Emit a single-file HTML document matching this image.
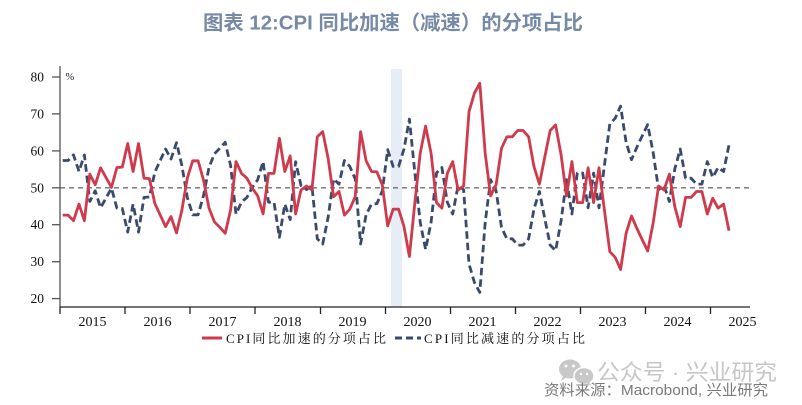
<!DOCTYPE html>
<html>
<head>
<meta charset="utf-8">
<style>
  html,body{margin:0;padding:0;background:#fff;}
  body{width:802px;height:405px;overflow:hidden;}
  svg{display:block;}
</style>
</head>
<body>
<svg width="802" height="405" viewBox="0 0 802 405" xmlns="http://www.w3.org/2000/svg">
  <rect x="0" y="0" width="802" height="405" fill="#fff"/>

  <!-- Title -->
  <text x="203" y="29.5" textLength="380" lengthAdjust="spacingAndGlyphs" font-family="'Liberation Sans','Noto Sans CJK SC',sans-serif" font-size="20" font-weight="bold" fill="#7689a6">图表 12:CPI 同比加速（减速）的分项占比</text>

  <!-- shading -->
  <rect x="391" y="69" width="11" height="238" fill="#e6edf6"/>

  <!-- 50 dashed ref line -->
  <line x1="60" y1="187.8" x2="749" y2="187.8" stroke="#707070" stroke-width="1.3" stroke-dasharray="5,4"/>

  <!-- Axes -->
  <line x1="60" y1="66" x2="60" y2="307" stroke="#555" stroke-width="1.3"/>
  <line x1="60" y1="307" x2="750" y2="307" stroke="#222" stroke-width="1.3"/>

  <!-- Y ticks -->
  <g stroke="#555" stroke-width="1.3">
    <line x1="52" y1="77" x2="60" y2="77"/>
    <line x1="52" y1="113.9" x2="60" y2="113.9"/>
    <line x1="52" y1="150.9" x2="60" y2="150.9"/>
    <line x1="52" y1="187.8" x2="60" y2="187.8"/>
    <line x1="52" y1="224.7" x2="60" y2="224.7"/>
    <line x1="52" y1="261.7" x2="60" y2="261.7"/>
    <line x1="52" y1="298.6" x2="60" y2="298.6"/>
  </g>
  <g font-family="'Liberation Serif',serif" font-size="13.5" fill="#111" text-anchor="end">
    <text x="44" y="81.5">80</text>
    <text x="44" y="118.4">70</text>
    <text x="44" y="155.4">60</text>
    <text x="44" y="192.3">50</text>
    <text x="44" y="229.2">40</text>
    <text x="44" y="266.2">30</text>
    <text x="44" y="303.1">20</text>
  </g>
  <text x="65.5" y="80" font-family="'Liberation Serif',serif" font-size="10.5" fill="#223">%</text>

  <!-- X ticks -->
  <g stroke="#222" stroke-width="1.3">
    <line x1="60" y1="307" x2="60" y2="314"/>
    <line x1="125" y1="307" x2="125" y2="314"/>
    <line x1="190" y1="307" x2="190" y2="314"/>
    <line x1="255" y1="307" x2="255" y2="314"/>
    <line x1="320.5" y1="307" x2="320.5" y2="314"/>
    <line x1="385.5" y1="307" x2="385.5" y2="314"/>
    <line x1="450.5" y1="307" x2="450.5" y2="314"/>
    <line x1="515.5" y1="307" x2="515.5" y2="314"/>
    <line x1="580.5" y1="307" x2="580.5" y2="314"/>
    <line x1="645.5" y1="307" x2="645.5" y2="314"/>
    <line x1="710.5" y1="307" x2="710.5" y2="314"/>
  </g>
  <g font-family="'Liberation Serif',serif" font-size="14" fill="#111" text-anchor="middle">
    <text x="92.5" y="326">2015</text>
    <text x="157.5" y="326">2016</text>
    <text x="222.5" y="326">2017</text>
    <text x="287.5" y="326">2018</text>
    <text x="352.5" y="326">2019</text>
    <text x="417.5" y="326">2020</text>
    <text x="482.5" y="326">2021</text>
    <text x="547.5" y="326">2022</text>
    <text x="612.5" y="326">2023</text>
    <text x="677.5" y="326">2024</text>
    <text x="742.5" y="326">2025</text>
  </g>

  <!-- Blue dashed series (decelerating share) -->
  <polyline fill="none" stroke="#3a4a6b" stroke-width="2.8" stroke-dasharray="7.5,4" stroke-linejoin="round"
    points="62.7,160.5 68.1,160.5 73.5,154.9 79.0,171.5 84.4,154.9 89.8,201.5 95.2,190.8 100.6,207.8 106.0,198.1 111.5,188.2 116.9,208.1 122.3,208.5 127.7,232.1 133.1,204.1 138.5,232.1 144.0,197.4 149.4,197.0 154.8,172.3 160.2,160.5 165.6,149.0 171.0,159.0 176.5,142.7 181.9,165.6 187.3,197.4 192.7,214.8 198.1,214.8 203.5,195.6 209.0,167.5 214.4,153.8 219.8,148.3 225.2,142.3 230.6,165.6 236.0,214.0 241.5,202.2 246.9,197.4 252.3,187.4 257.7,179.7 263.1,161.6 268.5,202.2 274.0,202.2 279.4,237.3 284.8,204.1 290.2,219.6 295.6,161.6 301.0,185.6 306.5,189.6 311.9,185.6 317.3,238.8 322.7,244.0 328.1,217.4 333.6,178.9 339.0,184.1 344.4,160.5 349.8,166.4 355.2,178.9 360.6,244.0 366.1,214.8 371.5,204.1 376.9,203.7 382.3,190.8 387.7,149.7 393.1,166.4 398.6,166.4 404.0,149.0 409.4,119.1 414.8,172.3 420.2,222.2 425.6,249.5 431.1,222.2 436.5,173.0 441.9,167.5 447.3,202.2 452.7,214.0 458.1,185.6 463.6,189.6 469.0,263.9 474.4,282.4 479.8,292.4 485.2,222.2 490.6,179.7 496.1,190.8 501.5,227.3 506.9,238.8 512.3,238.8 517.7,245.1 523.1,245.1 528.6,238.8 534.0,208.9 539.4,191.5 544.8,218.8 550.2,245.1 555.6,250.6 561.1,220.7 566.5,179.7 571.9,214.0 577.3,173.0 582.7,173.0 588.1,207.8 593.6,173.0 599.0,207.8 604.4,165.6 609.8,123.9 615.2,118.3 620.6,106.1 626.1,142.3 631.5,159.7 636.9,147.2 642.3,135.7 647.7,124.6 653.1,152.3 658.6,189.6 664.0,185.6 669.4,201.5 674.8,169.0 680.2,149.0 685.6,178.2 691.1,178.2 696.5,184.1 701.9,184.1 707.3,161.6 712.7,177.4 718.1,167.5 723.6,171.5 729.0,144.9"/>

  <!-- Red series (accelerating share) -->
  <polyline fill="none" stroke="#cf3a4c" stroke-width="2.8" stroke-linejoin="round"
    points="62.7,215.1 68.1,215.1 73.5,220.7 79.0,204.1 84.4,220.7 89.8,174.1 95.2,184.8 100.6,167.8 106.0,177.5 111.5,187.4 116.9,167.5 122.3,167.1 127.7,143.5 133.1,171.5 138.5,143.5 144.0,178.2 149.4,178.6 154.8,203.3 160.2,215.1 165.6,226.6 171.0,216.6 176.5,232.9 181.9,210.0 187.3,178.2 192.7,160.8 198.1,160.8 203.5,180.0 209.0,208.1 214.4,221.8 219.8,227.3 225.2,233.3 230.6,210.0 236.0,161.6 241.5,173.4 246.9,178.2 252.3,188.2 257.7,195.9 263.1,214.0 268.5,173.4 274.0,173.4 279.4,138.3 284.8,171.5 290.2,156.0 295.6,214.0 301.0,190.0 306.5,186.0 311.9,190.0 317.3,136.8 322.7,131.6 328.1,158.2 333.6,196.7 339.0,191.5 344.4,215.1 349.8,209.2 355.2,196.7 360.6,131.6 366.1,160.8 371.5,171.5 376.9,171.9 382.3,184.8 387.7,225.9 393.1,209.2 398.6,209.2 404.0,226.6 409.4,256.5 414.8,203.3 420.2,153.4 425.6,126.1 431.1,153.4 436.5,202.6 441.9,208.1 447.3,173.4 452.7,161.6 458.1,190.0 463.6,186.0 469.0,111.7 474.4,93.2 479.8,83.2 485.2,153.4 490.6,195.9 496.1,184.8 501.5,148.3 506.9,136.8 512.3,136.8 517.7,130.5 523.1,130.5 528.6,136.8 534.0,166.7 539.4,184.1 544.8,156.8 550.2,130.5 555.6,125.0 561.1,154.9 566.5,195.9 571.9,161.6 577.3,202.6 582.7,202.6 588.1,167.8 593.6,202.6 599.0,167.8 604.4,210.0 609.8,251.7 615.2,257.3 620.6,269.5 626.1,233.3 631.5,215.9 636.9,228.4 642.3,239.9 647.7,251.0 653.1,223.3 658.6,186.0 664.0,190.0 669.4,174.1 674.8,206.6 680.2,226.6 685.6,197.4 691.1,197.4 696.5,191.5 701.9,191.5 707.3,214.0 712.7,198.2 718.1,208.1 723.6,204.1 729.0,230.7"/>

  <!-- Legend -->
  <line x1="202" y1="338" x2="222" y2="338" stroke="#cf3a4c" stroke-width="3"/>
  <text x="226" y="343" textLength="160" lengthAdjust="spacing" font-family="'Liberation Serif','Noto Serif CJK SC',serif" font-size="13" fill="#111">CPI同比加速的分项占比</text>
  <line x1="395" y1="338" x2="421" y2="338" stroke="#3a4a6b" stroke-width="3" stroke-dasharray="7,4"/>
  <text x="424" y="343" textLength="161" lengthAdjust="spacing" font-family="'Liberation Serif','Noto Serif CJK SC',serif" font-size="13" fill="#111">CPI同比减速的分项占比</text>

  <!-- Watermark -->
  <g fill="#c8c8c8">
    <ellipse cx="570" cy="369" rx="11" ry="9.5"/>
    <path d="M563 376 L561 381 L567 377 Z"/>
    <ellipse cx="584" cy="376" rx="10" ry="8.5" stroke="#fff" stroke-width="1.5"/>
    <path d="M589 382 L592 386 L586 383 Z"/>
  </g>
  <g fill="#fff">
    <circle cx="566" cy="366" r="1.5"/>
    <circle cx="573.5" cy="366" r="1.5"/>
    <circle cx="581" cy="374" r="1.2"/>
    <circle cx="587" cy="374" r="1.2"/>
  </g>
  <text x="597" y="380" textLength="180" lengthAdjust="spacingAndGlyphs" font-family="'Liberation Sans','Noto Sans CJK SC',sans-serif" font-size="22" fill="#c6c6c6">公众号 · 兴业研究</text>

  <!-- Source -->
  <text x="544" y="395" textLength="224" lengthAdjust="spacingAndGlyphs" font-family="'Liberation Sans','Noto Sans CJK SC',sans-serif" font-size="15" fill="#7a7a7a">资料来源：Macrobond, 兴业研究</text>
</svg>
</body>
</html>
